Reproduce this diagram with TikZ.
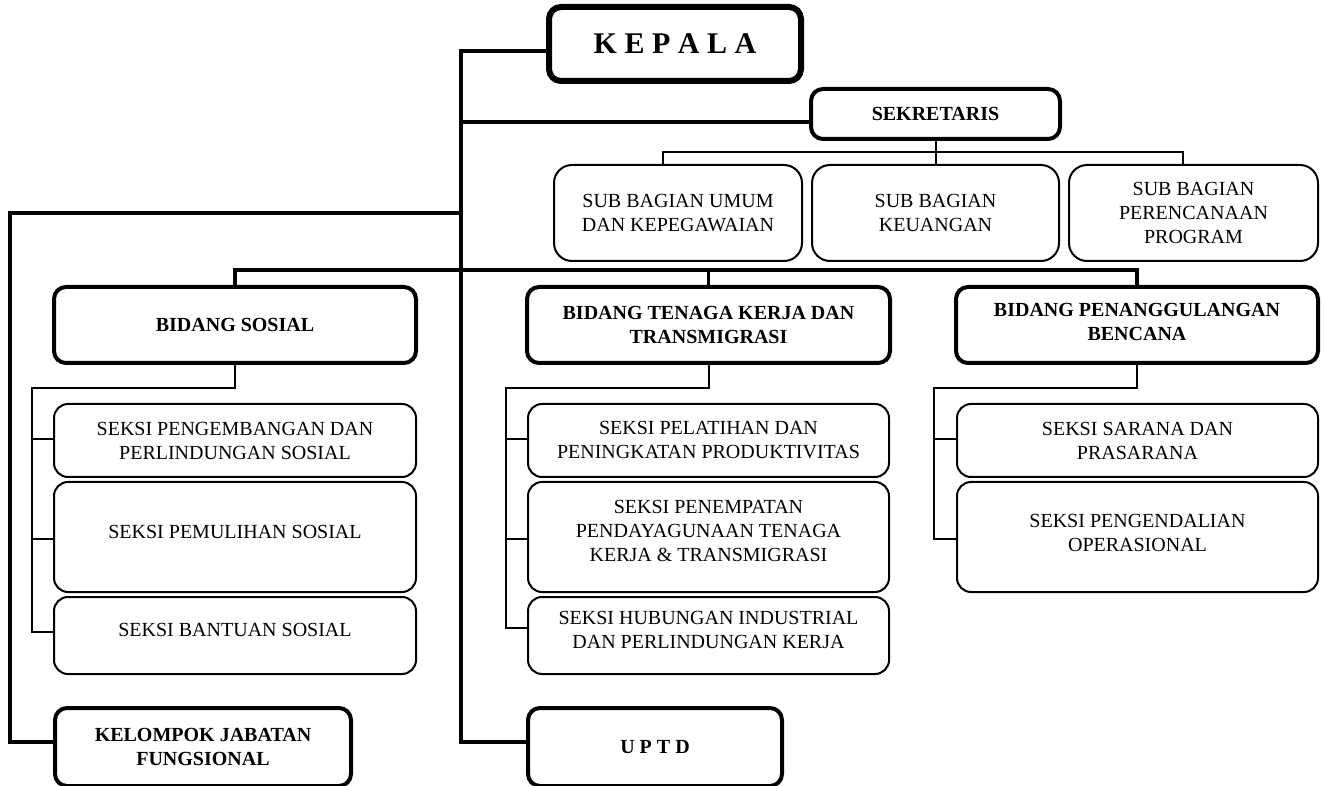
\documentclass[tikz,border=0pt]{standalone}
\usepackage{fontspec}
\setmainfont{Liberation Serif}
\begin{document}
\begin{tikzpicture}[x=0.5pt,y=-0.5pt,
  box/.style={draw, rounded corners=7pt, align=center, inner sep=0pt,
    font=\fontsize{10}{12}\selectfont},
  seksi/.style={box, line width=1pt, minimum width=180.5pt},
  subbox/.style={box, line width=1pt, rounded corners=9pt, minimum width=124pt, minimum height=48pt},
  boldbox/.style={box, line width=2pt, rounded corners=6pt,
    font=\fontsize{10}{12}\selectfont\bfseries},
  heavy/.style={line width=1.7pt},
  thinln/.style={line width=1pt},
  txtup/.style={text depth=#1}]
\useasboundingbox (0,0) rectangle (1324,786);
\clip (0,0) rectangle (1324,786);

% top
\node[boldbox, line width=3pt, minimum width=126pt, minimum height=37pt,
  font=\fontsize{15}{18}\selectfont\bfseries] (kepala) at (675,44) {K E P A L A};
\node[boldbox, minimum width=124.5pt, minimum height=25pt] (sek) at (935.5,114) {SEKRETARIS};

\node[subbox] (sub1) at (678,213) {SUB BAGIAN UMUM\\DAN KEPEGAWAIAN};
\node[subbox, minimum width=123.5pt] (sub2) at (935.5,213) {SUB BAGIAN\\KEUANGAN};
\node[subbox, minimum width=124.5pt] (sub3) at (1193.5,213) {SUB BAGIAN\\PERENCANAAN\\PROGRAM};

% bidang
\node[boldbox, minimum width=181pt, minimum height=38pt] (bid1) at (235,325) {BIDANG SOSIAL};
\node[boldbox, minimum width=181.5pt, minimum height=38pt] (bid2) at (708.5,325) {BIDANG TENAGA KERJA DAN\\TRANSMIGRASI};
\node[boldbox, minimum width=181pt, minimum height=38pt, txtup=3pt] (bid3) at (1137,325) {BIDANG PENANGGULANGAN\\BENCANA};

% seksi sosial
\node[seksi, minimum width=181pt, minimum height=36.5pt] (s11) at (235,440.5) {SEKSI PENGEMBANGAN DAN\\PERLINDUNGAN SOSIAL};
\node[seksi, minimum width=181pt, minimum height=55pt, txtup=5pt] (s12) at (235,537) {SEKSI PEMULIHAN SOSIAL};
\node[seksi, minimum width=181pt, minimum height=38.5pt, txtup=5.5pt] (s13) at (235,635.5) {SEKSI BANTUAN SOSIAL};

% seksi tenaga kerja
\node[seksi, minimum height=36.5pt] (s21) at (708.5,440.5) {SEKSI PELATIHAN DAN\\PENINGKATAN PRODUKTIVITAS};
\node[seksi, minimum height=55pt, txtup=6pt] (s22) at (708.5,537) {SEKSI PENEMPATAN\\PENDAYAGUNAAN TENAGA\\KERJA \& TRANSMIGRASI};
\node[seksi, minimum height=38.5pt, txtup=5.5pt] (s23) at (708.5,635.5) {SEKSI HUBUNGAN INDUSTRIAL\\DAN PERLINDUNGAN KERJA};

% seksi bencana
\node[seksi, minimum height=36.5pt] (s31) at (1137.5,440.5) {SEKSI SARANA DAN\\PRASARANA};
\node[seksi, minimum height=55pt, txtup=4pt] (s32) at (1137.5,537) {SEKSI PENGENDALIAN\\OPERASIONAL};

% bottom
\node[boldbox, minimum width=148pt, minimum height=39pt] (kel) at (203,747) {KELOMPOK JABATAN\\FUNGSIONAL};
\node[boldbox, minimum width=127pt, minimum height=39pt] (uptd) at (655,747) {U P T D};

% trunk
\coordinate (tk) at (461,51);
\coordinate (tb) at (461,742);
\draw[heavy] (tk -| kepala.west) -- (tk) -- (tb) -- (tb -| uptd.west);
\coordinate (ts) at (461,122);
\draw[heavy] (ts) -- (ts -| sek.west);
\coordinate (tl) at (461,213);
\coordinate (ll) at (10,213);
\coordinate (lb) at (10,742);
\draw[heavy] (tl) -- (ll) -- (lb) -- (lb -| kel.west);

% bidang bus
\coordinate (bb) at (0,270);
\draw[heavy] (bid1.north) -- (bid1.north |- bb) -- (bid3.north |- bb) -- (bid3.north);
\draw[heavy] (bid2.north |- bb) -- (bid2.north);

% sekretaris to sub bagian
\coordinate (sa) at (663,152);
\coordinate (sc) at (1183,152);
\draw[thinln] (sa |- sub1.north) -- (sa) -- (sc) -- (sc |- sub3.north);
\draw[thinln] (sek.south) -- (sub2.north);

% bidang sosial spine
\coordinate (c1) at (32,388);
\coordinate (c1a) at (32,439);
\coordinate (c1b) at (32,539);
\coordinate (c1c) at (32,632);
\draw[thinln] (bid1.south) -- (bid1.south |- c1) -- (c1) -- (c1c) -- (c1c -| s13.west);
\draw[thinln] (c1a) -- (c1a -| s11.west);
\draw[thinln] (c1b) -- (c1b -| s12.west);

% bidang tenaga spine
\coordinate (c2) at (506,388);
\coordinate (c2a) at (506,439);
\coordinate (c2b) at (506,539);
\coordinate (c2c) at (506,628);
\draw[thinln] (bid2.south) -- (bid2.south |- c2) -- (c2) -- (c2c) -- (c2c -| s23.west);
\draw[thinln] (c2a) -- (c2a -| s21.west);
\draw[thinln] (c2b) -- (c2b -| s22.west);

% bidang bencana spine
\coordinate (c3) at (934,388);
\coordinate (c3a) at (934,439);
\coordinate (c3b) at (934,539);
\draw[thinln] (bid3.south) -- (bid3.south |- c3) -- (c3) -- (c3b) -- (c3b -| s32.west);
\draw[thinln] (c3a) -- (c3a -| s31.west);
\end{tikzpicture}
\end{document}
